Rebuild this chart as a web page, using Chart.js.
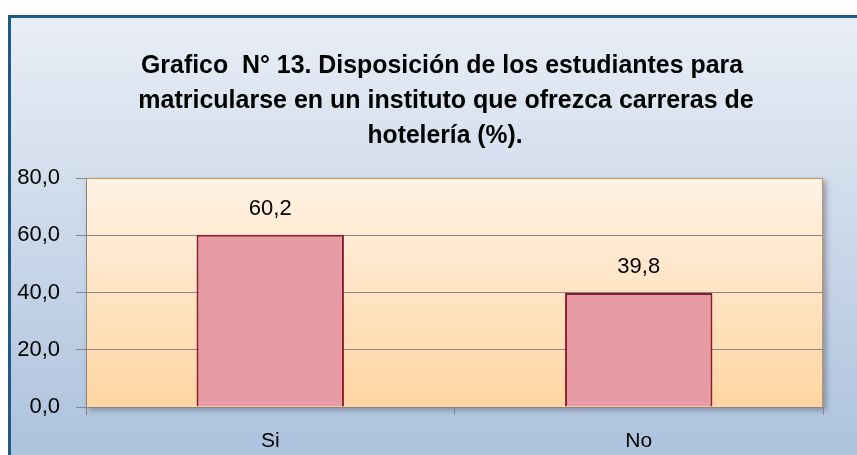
<!DOCTYPE html>
<html lang="es">
<head>
  <meta charset="UTF-8">
  <title>Grafico N° 13</title>
  <script src="https://cdn.jsdelivr.net/npm/chart.js"></script>
  <style>
    body { margin: 0; background: #fff; overflow: hidden; }
    #wrap { width: 857px; height: 455px; }
  </style>
</head>
<body>
  <div id="wrap"><canvas id="chart" width="857" height="455"></canvas></div>

  <script>
    // chart data
    const categories = ['Si', 'No'];
    const values = [60.2, 39.8];
    const yTicks = [0, 20, 40, 60, 80];
    const titleLines = [
      'Grafico  N° 13. Disposición de los estudiantes para',
      'matricularse en un instituto que ofrezca carreras de',
      'hotelería (%).'
    ];

    const fmt = v => v.toFixed(1).replace('.', ',');
    const FONT = '"Liberation Sans", Arial, sans-serif';

    // backdrop: blue framed box + peach plot area with shadow
    const backdrop = {
      id: 'backdrop',
      beforeDraw(chart) {
        const { ctx, chartArea: a, width, height } = chart;
        ctx.save();
        ctx.fillStyle = '#fff';
        ctx.fillRect(0, 0, width, height);

        const bg = ctx.createLinearGradient(0, 16, 0, height);
        bg.addColorStop(0, '#e9eef6');
        bg.addColorStop(1, '#adc2dd');
        ctx.fillStyle = bg;
        ctx.fillRect(9.5, 16.5, width + 20, height + 20);
        ctx.strokeStyle = '#1f5a85';
        ctx.lineWidth = 3;
        ctx.strokeRect(9.5, 16.5, width + 20, height + 20);

        const pg = ctx.createLinearGradient(0, a.top, 0, a.bottom);
        pg.addColorStop(0, '#fff2e4');
        pg.addColorStop(1, '#ffd5a3');
        ctx.shadowColor = 'rgba(60,60,80,0.45)';
        ctx.shadowBlur = 6;
        ctx.shadowOffsetX = 3;
        ctx.shadowOffsetY = 3;
        ctx.fillStyle = pg;
        ctx.fillRect(a.left, a.top, a.right - a.left, a.bottom - a.top);
        ctx.shadowColor = 'transparent';

        ctx.strokeStyle = '#c8965a';
        ctx.lineWidth = 1;
        ctx.beginPath();
        ctx.moveTo(a.left, a.top + 0.5);
        ctx.lineTo(a.right - 0.5, a.top + 0.5);
        ctx.lineTo(a.right - 0.5, a.bottom);
        ctx.stroke();

        // title
        ctx.fillStyle = '#000';
        ctx.font = 'bold 25px ' + FONT;
        ctx.textAlign = 'center';
        ctx.textBaseline = 'alphabetic';
        const centers = [442, 446, 445];
        const widths = [602, 629, 155];
        const base = [73, 108, 143];
        titleLines.forEach((t, i) => ctx.fillText(t, centers[i], base[i], widths[i]));
        ctx.restore();
      }
    };

    // value labels above the bars
    const valueLabels = {
      id: 'valueLabels',
      afterDatasetsDraw(chart) {
        const { ctx } = chart;
        ctx.save();
        ctx.fillStyle = '#000';
        ctx.font = '22px ' + FONT;
        ctx.textAlign = 'center';
        ctx.textBaseline = 'alphabetic';
        chart.getDatasetMeta(0).data.forEach((bar, i) => {
          ctx.fillText(fmt(values[i]), bar.x, bar.y - 20);
        });
        ctx.restore();
      }
    };

    new Chart(document.getElementById('chart'), {
      type: 'bar',
      data: {
        labels: categories,
        datasets: [{
          data: values,
          backgroundColor: '#e59aa4',
          borderColor: '#8e1b2b',
          borderWidth: 2,
          categoryPercentage: 0.8,
          barPercentage: 0.5
        }]
      },
      options: {
        responsive: false,
        animation: false,
        layout: { padding: { top: 178, right: 34, left: 0, bottom: 0 } },
        plugins: {
          legend: { display: false },
          title: { display: false },
          tooltip: { enabled: false }
        },
        scales: {
          y: {
            min: yTicks[0],
            max: yTicks[yTicks.length - 1],
            afterBuildTicks: s => { s.ticks = yTicks.map(v => ({ value: v })); },
            afterFit: s => { s.width = 86; },
            ticks: {
              callback: v => fmt(v),
              color: '#000',
              font: { family: FONT, size: 22 },
              padding: 16
            },
            grid: {
              color: c => (c.tick && c.tick.value === 80 ? '#c8965a' : '#868686'),
              tickColor: '#868686',
              tickLength: 10
            },
            border: { color: '#868686' }
          },
          x: {
            afterFit: s => { s.height = 48; },
            ticks: {
              color: '#000',
              font: { family: FONT, size: 21 },
              padding: 14
            },
            grid: {
              drawOnChartArea: false,
              color: '#868686',
              tickLength: 8
            },
            border: { color: '#868686' }
          }
        }
      },
      plugins: [backdrop, valueLabels]
    });
  </script>
</body>
</html>
